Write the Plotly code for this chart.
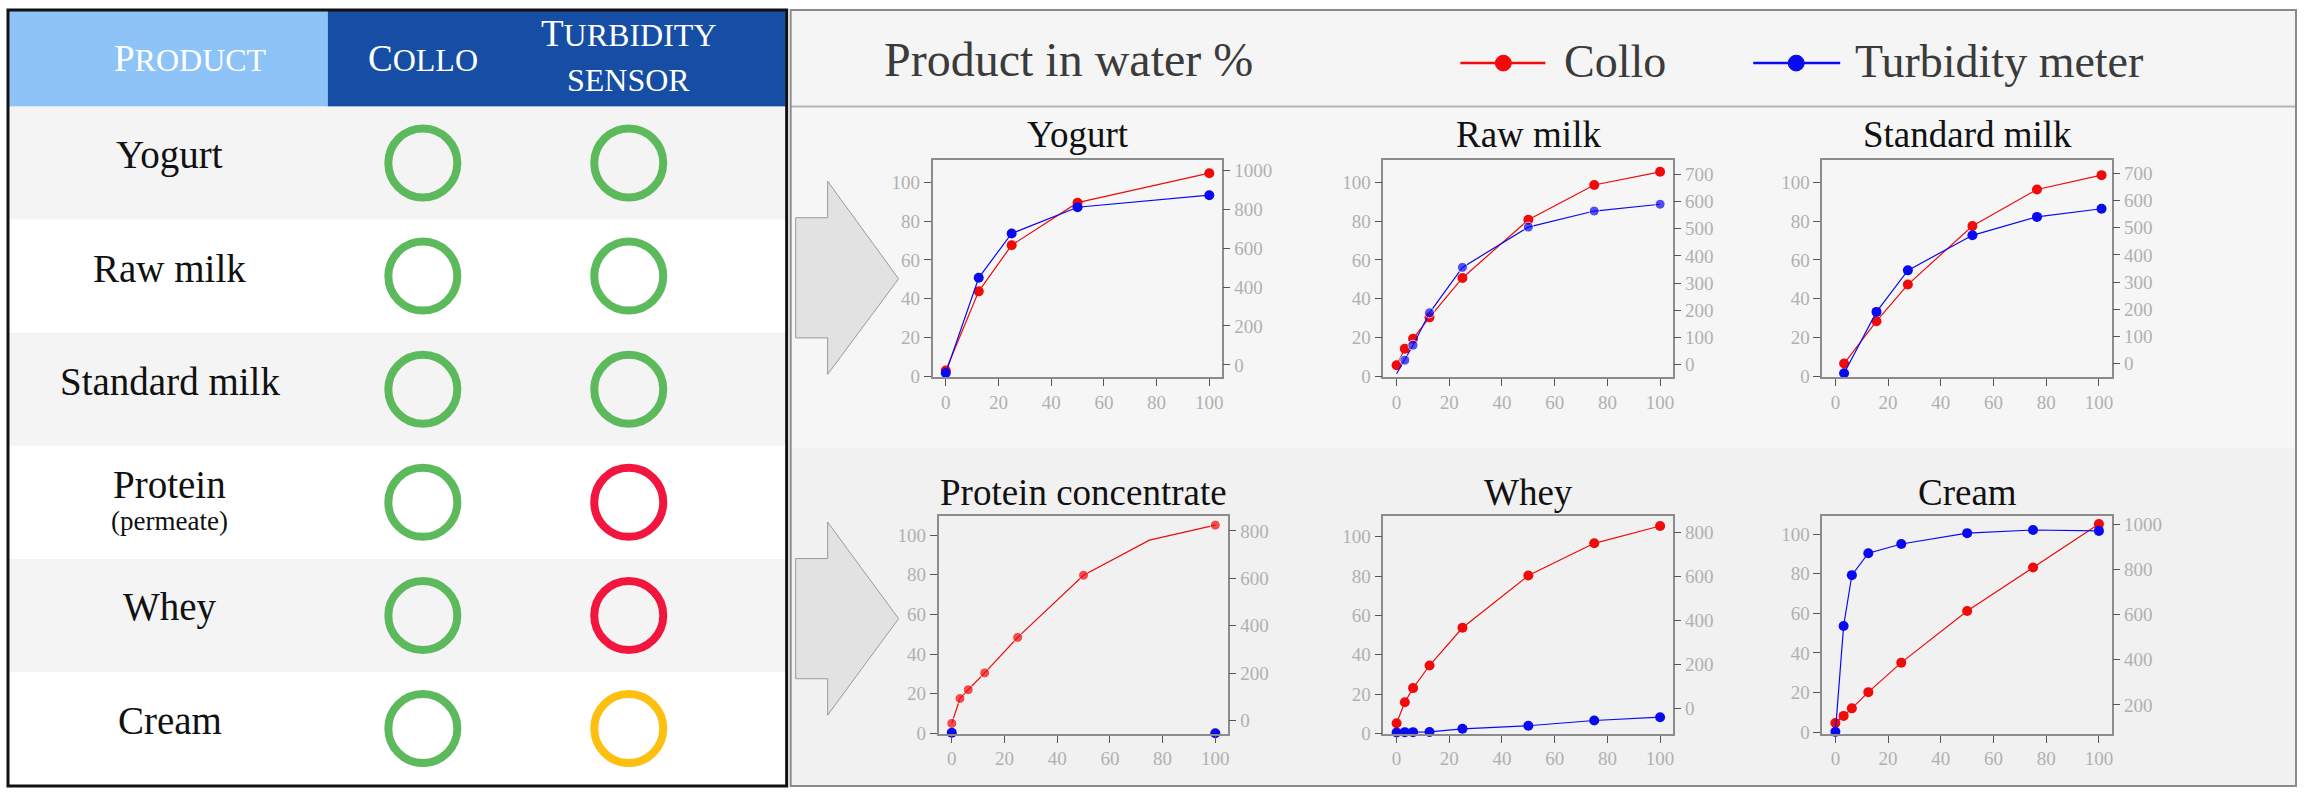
import plotly.graph_objects as go

# ---------------- data ----------------
products = ["Yogurt", "Raw milk", "Standard milk", "Protein", "Whey", "Cream"]
product_notes = ["", "", "", "(permeate)", "", ""]
methods = ["Collo", "Turbidity sensor"]
collo_status = ["good", "good", "good", "good", "good", "good"]
turbidity_status = ["good", "good", "good", "bad", "bad", "partial"]

chart_titles = ["Yogurt", "Raw milk", "Standard milk", "Protein concentrate", "Whey", "Cream"]

yogurt_x = [0, 12.5, 25, 50, 100]
yogurt_collo = [3.0, 43.8, 67.6, 89.5, 104.7]
yogurt_turb = [-42, 448, 676, 811, 873]

rawmilk_x = [0, 3.125, 6.25, 12.5, 25, 50, 75, 100]
rawmilk_collo = [5.7, 14.2, 19.4, 30.4, 50.7, 80.7, 98.6, 105.4]
rawmilk_turb = [-33, 17, 72, 191, 358, 506, 565, 590]
rawmilk_turb_marked = [False, True, True, True, True, True, True, True]

stdmilk_x = [3.3, 15.6, 27.5, 52, 76.5, 101]
stdmilk_collo = [6.6, 28.4, 47.3, 77.5, 96.3, 103.7]
stdmilk_turb = [-36, 190, 343, 472, 540, 570]

protein_x = [0, 3.125, 6.25, 12.5, 25, 50, 75, 100]
protein_collo = [5.0, 17.6, 22.0, 30.5, 48.4, 79.8, 97.5, 105.1]
protein_collo_marked = [True, True, True, True, True, True, False, True]
protein_turb = [-52, None, None, None, None, None, None, -54]

whey_x = [0, 3.125, 6.25, 12.5, 25, 50, 75, 100]
whey_collo = [5.1, 15.8, 23.0, 34.5, 53.7, 80.3, 96.7, 105.5]
whey_turb = [-109, -107, -107, -106, -92, -78, -54, -39]

cream_x = [0, 3.125, 6.25, 12.5, 25, 50, 75, 100]
cream_collo = [4.6, 8.2, 12.0, 20.2, 35.1, 61.2, 83.2, 105.1]
cream_turb = [81, 550, 775, 872, 913, 961, 975, 971]

x_ticks = [0, 20, 40, 60, 80, 100]
left_ticks = [0, 20, 40, 60, 80, 100]

# ---------------- layout helpers ----------------
W, H = 2307, 803
def X(p):
    return p / W
def Y(p):
    return 1 - p / H

SERIF = "Liberation Serif"
RED = "#f00a0a"
BLUE = "#0a0af0"
STATUS_COLORS = {"good": "#5cba5c", "bad": "#f2163f", "partial": "#fdc010"}

series = [
    (yogurt_x, yogurt_collo, None, yogurt_turb, None),
    (rawmilk_x, rawmilk_collo, None, rawmilk_turb, rawmilk_turb_marked),
    (stdmilk_x, stdmilk_collo, None, stdmilk_turb, None),
    (protein_x, protein_collo, protein_collo_marked, protein_turb, None),
    (whey_x, whey_collo, None, whey_turb, None),
    (cream_x, cream_collo, None, cream_turb, None),
]

col_dom = [[(933, 1223), (1384, 1674), (1823, 2113)],
           [(939, 1229), (1384, 1674), (1823, 2113)]]
row_dom = [(160, 381), (522, 743)]
left_ranges = [[-0.5, 111.7], [-0.5, 111.7], [-0.5, 111.7],
               [-0.3, 109.6], [-0.3, 110.5], [-0.9, 109.1]]
right_ranges = [[-64, 1056], [-46, 754], [-51, 751], [-57, 862], [-115, 875], [72, 1036]]
right_dticks = [200, 100, 100, 200, 200, 200]

fig = go.Figure()
layout = dict(
    width=W, height=H, margin=dict(l=0, r=0, t=0, b=0),
    paper_bgcolor="white", plot_bgcolor="white", showlegend=False,
)

tickfont = dict(family=SERIF, size=19, color="#b0b0b0")
common_axis = dict(showgrid=False, zeroline=False, ticks="outside", ticklen=7,
                   tickcolor="#555", tickwidth=1, tickfont=tickfont)

def sizes(marked):
    if marked is None:
        return 10
    return [10 if m else 0 for m in marked]

for k in range(6):
    r, c = divmod(k, 3)
    xs, collo, cm, turb, tm = series[k]
    xa, ya, yb = f"x{k+1}", f"y{k+1}", f"y{k+7}"
    fig.add_trace(go.Scatter(x=xs, y=turb, xaxis=xa, yaxis=yb, mode="lines+markers",
                             line=dict(color=BLUE, width=1.2),
                             marker=dict(color=BLUE, size=sizes(tm)),
                             cliponaxis=False, connectgaps=False))
    fig.add_trace(go.Scatter(x=xs, y=collo, xaxis=xa, yaxis=ya, mode="lines+markers",
                             line=dict(color=RED, width=1.2),
                             marker=dict(color=RED, size=sizes(cm)),
                             cliponaxis=False))
    x0, x1 = col_dom[r][c]
    y0, y1 = row_dom[r]
    sfx = "" if k == 0 else str(k + 1)
    layout["xaxis" + sfx] = dict(common_axis, domain=[X(x0), X(x1)], range=[-5, 105],
                                 tickvals=x_ticks, anchor=ya, showline=True,
                                 linecolor="#8c8c8c", linewidth=1.5, mirror=True)
    layout["yaxis" + sfx] = dict(common_axis, domain=[Y(y1), Y(y0)], range=left_ranges[k],
                                 tickvals=left_ticks, anchor=xa, showline=True,
                                 linecolor="#8c8c8c", linewidth=1.5, mirror=True)
    layout[f"yaxis{k+7}"] = dict(common_axis, range=right_ranges[k], dtick=right_dticks[k],
                                 tick0=0, overlaying=ya, side="right", anchor=xa,
                                 showline=False)

# ---------------- table (status circles) ----------------
fig.add_trace(go.Scatter(
    x=[methods[0]] * len(products) + [methods[1]] * len(products),
    y=products + products,
    xaxis="x7", yaxis="y13", mode="markers", cliponaxis=False,
    marker=dict(symbol="circle-open", size=69,
                color=[STATUS_COLORS[s] for s in collo_status + turbidity_status],
                line=dict(width=8)),
))
layout["xaxis7"] = dict(type="category", categoryarray=methods, domain=[X(9), X(786)],
                        range=[-2.0097, 1.762], visible=False, anchor="y13")
layout["yaxis13"] = dict(type="category", categoryarray=products, domain=[Y(795), Y(106)],
                         range=[5.5, -0.5], visible=False, anchor="x7")

shapes = []
# right panel background
shapes.append(dict(type="rect", xref="paper", yref="paper", x0=X(791), x1=X(2297),
                   y0=Y(796), y1=Y(8), fillcolor="#f1f1f1", line=dict(width=0), layer="below"))
shapes.append(dict(type="rect", xref="paper", yref="paper", x0=X(791), x1=X(2297),
                   y0=Y(453), y1=Y(106), fillcolor="#f6f6f6", line=dict(width=0), layer="below"))
shapes.append(dict(type="rect", xref="paper", yref="paper", x0=X(791), x1=X(2297),
                   y0=Y(106), y1=Y(8), fillcolor="#f5f5f5", line=dict(width=0), layer="below"))
shapes.append(dict(type="line", xref="paper", yref="paper", x0=X(791), x1=X(2297),
                   y0=Y(106), y1=Y(106), line=dict(color="#b4b4b4", width=2), layer="below"))
shapes.append(dict(type="rect", xref="paper", yref="paper", x0=X(791), x1=X(2297),
                   y0=Y(796), y1=Y(8), line=dict(color="#8a8a8a", width=2), layer="below"))
# arrows
for (top, bot, tip_y, ht, hb) in [(219, 341, 281, 182, 378), (565, 687, 626, 528, 724)]:
    pts = [(796, top), (828, top), (828, ht), (899, tip_y), (828, hb), (828, bot), (796, bot)]
    path = "M " + " L ".join(f"{X(a):.5f},{Y(b):.5f}" for a, b in pts) + " Z"
    shapes.append(dict(type="path", xref="paper", yref="paper", path=path,
                       fillcolor="#e2e2e2", line=dict(color="#9a9a9a", width=1), layer="below"))
# legend glyphs
for (lx0, lx1, cx, col) in [(1461, 1546, 1504, RED), (1754, 1841, 1797, BLUE)]:
    shapes.append(dict(type="line", xref="paper", yref="paper", x0=X(lx0), x1=X(lx1),
                       y0=Y(62), y1=Y(62), line=dict(color=col, width=2.5)))
    shapes.append(dict(type="circle", xref="paper", yref="paper", x0=X(cx - 8), x1=X(cx + 8),
                       y0=Y(70), y1=Y(54), fillcolor=col, line=dict(color=col, width=1)))
# table header + rows
shapes.append(dict(type="rect", xref="paper", yref="paper", x0=X(9), x1=X(328),
                   y0=Y(106), y1=Y(9), fillcolor="#8ec3f7", line=dict(width=0), layer="below"))
shapes.append(dict(type="rect", xref="paper", yref="paper", x0=X(328), x1=X(786),
                   y0=Y(106), y1=Y(9), fillcolor="#164ea6", line=dict(width=0), layer="below"))
for i in range(len(products)):
    if i % 2 == 0:
        shapes.append(dict(type="rect", xref="x7 domain", yref="y13", x0=0, x1=1,
                           y0=i - 0.5, y1=i + 0.5,
                           fillcolor="#f4f4f4", line=dict(width=0), layer="below"))
shapes.append(dict(type="rect", xref="paper", yref="paper", x0=X(8), x1=X(787),
                   y0=Y(796), y1=Y(8), line=dict(color="#111", width=3)))

ann = []
ann.append(dict(text="Product in water %", x=X(882), y=Y(58), xref="paper", yref="paper",
                xanchor="left", yanchor="middle", showarrow=False,
                font=dict(family=SERIF, size=48, color="#3b3b3b")))
ann.append(dict(text="Collo", x=X(1563), y=Y(60), xref="paper", yref="paper",
                xanchor="left", yanchor="middle", showarrow=False,
                font=dict(family=SERIF, size=46, color="#3b3b3b")))
ann.append(dict(text="Turbidity meter", x=X(1854), y=Y(60), xref="paper", yref="paper",
                xanchor="left", yanchor="middle", showarrow=False,
                font=dict(family=SERIF, size=46, color="#3b3b3b")))
for k, t in enumerate(chart_titles):
    r, c = divmod(k, 3)
    x0, x1 = col_dom[r][c]
    ann.append(dict(text=t, x=X((x0 + x1) / 2), y=Y([135, 498][r]), xref="paper", yref="paper",
                    xanchor="center", yanchor="middle", showarrow=False,
                    font=dict(family=SERIF, size=37, color="#111")))

# table header text (caps with smaller trailing caps, like small caps)
def smallcaps(word, big=37, small=32):
    return (f"<span style='font-size:{big}px'>{word[0].upper()}</span>"
            f"<span style='font-size:{small}px'>{word[1:].upper()}</span>")

hdr_font = dict(family=SERIF, size=32, color="white")
ann.append(dict(text=smallcaps("Product"), x=X(191), y=Y(57), xref="paper", yref="paper",
                showarrow=False, xanchor="center", yanchor="middle", font=hdr_font))
ann.append(dict(text=smallcaps("Collo"), x=methods[0], y=Y(57), xref="x7", yref="paper",
                showarrow=False, xanchor="center", yanchor="middle", font=hdr_font))
ann.append(dict(text=smallcaps("Turbidity"), x=methods[1], y=Y(32), xref="x7", yref="paper",
                showarrow=False, xanchor="center", yanchor="middle", font=hdr_font))
ann.append(dict(text="sensor".upper(), x=methods[1], y=Y(79), xref="x7", yref="paper",
                showarrow=False, xanchor="center", yanchor="middle", font=hdr_font))
for p, note in zip(products, product_notes):
    ann.append(dict(text=p, x=X(170), y=p, xref="paper", yref="y13", showarrow=False,
                    xanchor="center", yanchor="middle", yshift=18 if note else 8,
                    font=dict(family=SERIF, size=39, color="#111")))
    if note:
        ann.append(dict(text=note, x=X(170), y=p, xref="paper", yref="y13", showarrow=False,
                        xanchor="center", yanchor="middle", yshift=-19,
                        font=dict(family=SERIF, size=27, color="#111")))

layout["shapes"] = shapes
layout["annotations"] = ann
fig.update_layout(**layout)
fig.write_html("out.html", config={"displayModeBar": False},
               post_script="document.body.style.margin='0px';document.body.style.overflow='hidden';")
